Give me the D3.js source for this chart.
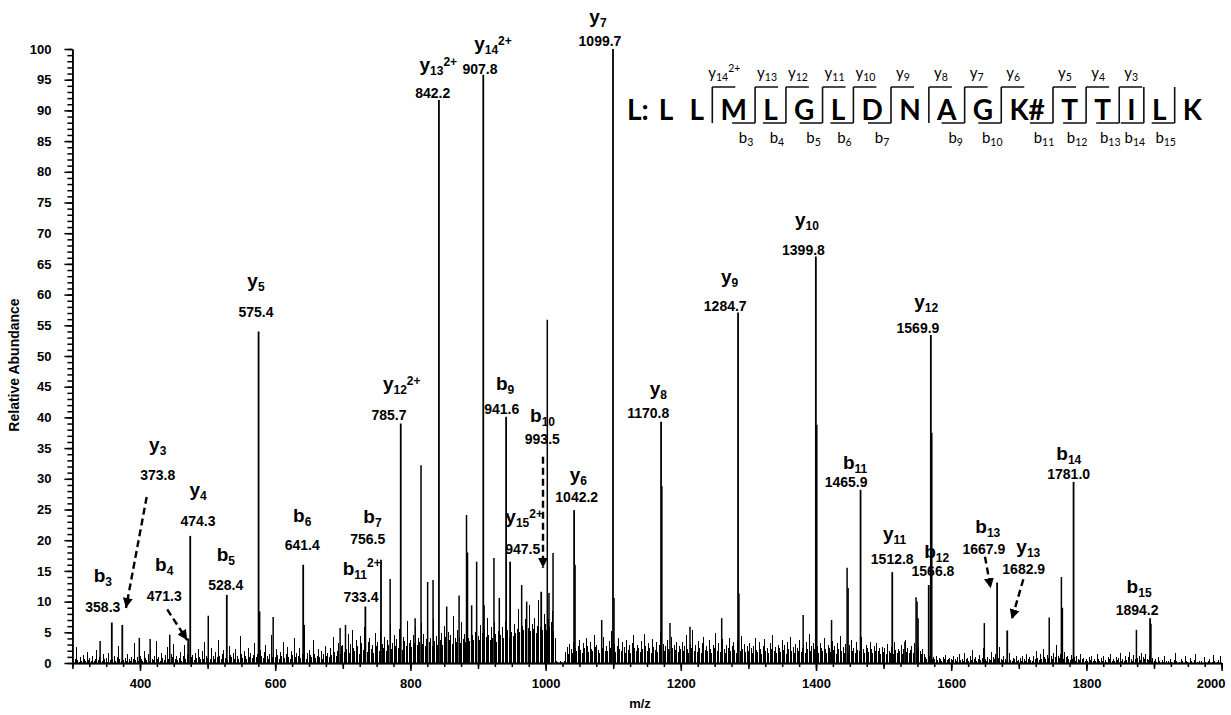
<!DOCTYPE html>
<meta charset="utf-8">
<body style="margin:0;background:#fff">
<svg></svg>
<script src="https://cdn.jsdelivr.net/npm/d3@7"></script>
<script>
// ---------- data ----------
const xDomain = [300, 2000]
const yDomain = [0, 100]
const xTickLabels = [400, 600, 800, 1000, 1200, 1400, 1600, 1800, 2000]
const yTickLabels = [0, 5, 10, 15, 20, 25, 30, 35, 40, 45, 50, 55, 60, 65, 70, 75, 80, 85, 90, 95, 100]

// assigned fragment ions: [ion, index, charge, m/z, relative abundance]
const ions = [
  ["b", "3", "", 358.3, 6.6],
  ["y", "3", "", 373.8, 6.2],
  ["b", "4", "", 471.3, 4.0],
  ["y", "4", "", 474.3, 20.7],
  ["b", "5", "", 528.4, 11.1],
  ["y", "5", "", 575.4, 54.0],
  ["b", "6", "", 641.4, 16.0],
  ["b", "11", "2+", 733.4, 9.2],
  ["b", "7", "", 756.5, 16.8],
  ["y", "12", "2+", 785.7, 39.0],
  ["y", "13", "2+", 842.2, 91.7],
  ["y", "14", "2+", 907.8, 95.8],
  ["b", "9", "", 941.6, 40.1],
  ["y", "15", "2+", 947.5, 16.5],
  ["b", "10", "", 993.5, 11.6],
  ["y", "6", "", 1042.2, 24.9],
  ["y", "7", "", 1099.7, 100],
  ["y", "8", "", 1170.8, 39.3],
  ["y", "9", "", 1284.7, 57.1],
  ["y", "10", "", 1399.8, 66.2],
  ["b", "11", "", 1465.9, 28.2],
  ["y", "11", "", 1512.8, 14.8],
  ["b", "12", "", 1566.8, 12.7],
  ["y", "12", "", 1569.9, 53.4],
  ["b", "13", "", 1667.9, 13.1],
  ["y", "13", "", 1682.9, 5.3],
  ["b", "14", "", 1781.0, 29.5],
  ["b", "15", "", 1894.2, 7.3]
]

// unlabelled peaks: [m/z, relative abundance]
const otherPeaks = [
  [341, 3.6], [399, 4.1], [415, 3.9], [444, 4.6], [501, 7.7], [577, 8.4], [597, 7.5],
  [643, 6.2], [696, 5.7], [704, 6.2], [770, 13.7], [807, 7.3], [815.7, 32.2], [825.5, 13.2],
  [833.5, 13.5], [853.7, 9.2], [872, 11], [883, 24.1], [884.5, 18], [890.6, 9.4], [898, 16.5],
  [909, 9.4], [923.6, 17.1], [931.5, 10.6], [964.6, 12.7], [972, 10], [1002.5, 55.9],
  [1005, 11.4], [1011, 17.9], [1043.6, 16], [1083, 7], [1101.2, 10.6], [1172, 28.8],
  [1184, 6.5], [1213.6, 5.9], [1260.5, 7.3], [1286, 11.3], [1381, 7.8], [1401.2, 38.8],
  [1423, 7], [1446, 15.5], [1447.5, 12.2], [1531.5, 3.5], [1548, 10.7], [1549.5, 10],
  [1551, 7.3], [1571.3, 37.5], [1649, 6.5], [1745, 7.4], [1763, 14], [1764.5, 9],
  [1874, 5.4], [1895.5, 6.4]
]

// baseline noise, one value every 2 m/z starting at 300
const noiseStart = 300, noiseStep = 2
const noise = [
  1.1,0.3,0.6,2.6,0.5,0.2,0.9,0.4,1.3,0.6, 0.3,1.8,0.5,0.8,0.4,1.2,0.3,0.7,2.1,0.5,
  0.9,0.4,0.3,1.4,0.6,0.8,0.2,1.6,0.5,0.4, 0.7,1.1,0.3,0.9,2.8,0.6,0.4,1.3,0.5,0.8,
  0.3,1.5,0.6,0.4,1,0.7,3.3,0.5,0.9,0.4,
  1.2,0.6,0.4,1.9,0.8,0.5,1.4,0.3,2.3,0.7, 0.5,1.1,3.6,0.6,0.9,0.4,1.7,0.8,0.5,1.3,
  2.6,0.7,0.4,1.5,0.9,3.1,0.6,1.2,0.5,0.8, 1.8,0.4,1.1,2.9,0.7,1.4,0.6,4.2,0.9,1.3,
  0.5,1.6,0.8,2.2,1,0.6,1.9,0.7,3.4,1.1,
  0.8,1.5,0.6,2.4,1.1,0.7,1.8,0.9,3.8,1.2, 0.6,1.4,2.1,0.8,1.6,0.5,2.7,1.3,0.9,1.7,
  0.7,2.3,1.1,0.6,4.4,1.4,0.8,1.9,1.2,0.7, 2.5,1,1.6,0.8,1.3,3.2,0.9,1.5,0.7,2.1,
  1.2,0.8,1.8,2.9,1.1,0.6,1.4,4.6,1,1.7,
  0.9,2.2,1.3,0.7,1.8,1.1,3.5,0.8,1.5,2.6, 1,0.7,1.9,1.3,4.1,0.9,1.6,1.2,2.4,0.8,
  1.4,3,1.1,0.7,1.7,2.1,1.3,0.9,3.7,1.5, 0.8,1.2,2.3,1,1.9,0.7,1.4,2.8,1.1,1.6,
  0.9,2.5,1.3,4.3,1.8,1.2,2,3.2,1.5,2.7,
  2.9,1.8,3.6,2.2,4.8,1.6,3.1,5.4,2.4,1.9, 3.8,2.7,1.5,4.4,3.2,2.1,5.9,2.6,1.8,3.5,
  4.1,2.3,3,1.7,4.9,2.8,3.4,2,5.2,3.1, 2.5,4.3,1.9,3.7,2.9,6.3,2.2,3.3,4.6,2.7,
  3.9,2.4,5.5,3,2.1,4.2,3.6,2.8,6.8,3.3,
  3.7,2.6,4.5,3.2,5.8,2.9,4,3.5,6.5,3.1, 4.7,2.8,3.9,5.3,3.4,4.1,2.7,7.2,3.6,4.4,
  3,5.6,3.8,4.9,2.9,6.1,4.2,3.3,5,3.7, 4.6,3.1,7.6,4,3.5,5.4,4.3,3.2,6.7,3.9,
  4.8,3.4,5.7,4.1,3.6,8.3,4.5,3.8,5.1,4.2,
  4.4,3.7,6.2,4.9,3.9,5.5,4.3,7.4,4.6,3.8, 5.9,4.1,6.6,4.7,3.5,5.2,8.1,4.5,5.8,4,
  6.9,4.8,5.3,4.2,7.7,5,4.4,6.3,4.9,5.6, 8.8,5.1,4.6,6,5.4,7.1,4.8,5.7,9.5,5.2,
  6.4,5.5,7.3,4.9,6.1,10.2,5.8,6.7,5.3,7.9,
  6.3,5.4,7.2,5.8,6.6,8.4,5.2,4.1,0.3,0.2, 0,0.3,0.2,0,0.4,1.8,2.6,1.5,3.1,2.2,
  1.7,3.4,2.5,1.9,2.8,3.7,2.1,1.6,3.2,2.4, 4.1,2.7,1.8,3.5,2.3,1.9,4.6,2.6,3,2.1,
  1.7,3.3,2.5,4.3,2,2.8,1.9,3.6,2.4,5.2,
  2.2,3.1,1.8,2.7,4,2.3,1.9,3.4,2.6,1.7, 3.8,2.1,2.9,1.6,3.3,4.5,2.4,2,3,2.5,
  1.8,3.6,2.2,4.8,2.7,1.9,3.2,2.4,1.7,3.9, 2.6,2.1,3.5,1.8,2.9,5.1,2.3,3.1,2,2.7,
  3.7,2.2,1.9,4.2,2.5,3,2.1,3.4,1.8,2.8,
  2.3,3.5,1.9,2.8,4.6,2.2,1.7,3.1,2.5,5.4, 2,2.9,1.8,3.6,2.4,1.6,3.2,4.3,2.1,2.7,
  1.9,3.8,2.3,1.7,2.9,2.5,4.9,2,3.3,1.8, 2.6,3.9,2.2,1.6,3,2.4,4.1,1.9,2.8,3.4,
  2.1,1.7,3.6,2.5,2,4.4,2.3,3.1,1.8,2.7,
  1.9,3.2,2.4,1.6,2.8,4,2.1,1.8,3.5,2.3, 1.5,2.7,3.9,2,2.5,1.7,3.3,2.2,4.5,1.9,
  2.6,1.6,3,2.4,1.8,3.7,2.1,2.9,1.5,3.4, 2.3,4.2,1.9,2.6,1.7,3.1,2.5,2,3.8,1.8,
  2.4,2.9,1.6,3.5,2.2,4.7,2,2.7,3.2,2.3,
  2.1,2.8,1.7,3.3,2.4,1.9,4.1,2.2,1.6,3, 2.5,1.8,3.6,2.1,2.7,1.5,3.2,2.3,4.4,1.9,
  2.6,1.7,3.1,2.2,1.8,2.9,3.8,2,2.4,1.6, 3.4,2.1,1.9,2.7,4.3,2.3,1.7,3,2.5,1.8,
  3.5,2.2,1.6,2.8,2,3.3,1.9,2.4,1.5,2.6,
  1.8,2.4,1.5,3.1,2,1.7,2.6,1.4,3.5,2.1, 1.6,2.3,1.9,2.9,1.5,2.2,3.7,1.8,2.5,1.6,
  2.1,2.8,1.7,3.3,2.4,1.9,2.6,2,1.5,2.3, 1.4,0.9,0.6,0.8,1.1,0.5,0.7,0.9,0.6,1.2,
  0.5,0.8,0.6,0.4,0.9,0.7,1.3,0.5,0.6,0.8,
  0.7,0.5,1.1,0.6,0.4,0.9,1.4,0.5,0.7,0.3, 1.6,0.6,0.8,0.4,1.2,0.5,2.1,0.7,0.9,0.4,
  0.6,1.3,0.5,0.8,2.4,0.6,0.4,1,0.7,0.5, 1.8,0.9,0.6,1.5,0.4,0.8,2.6,0.7,0.5,1.2,
  0.6,0.4,0.9,1.7,0.5,0.3,0.8,0.6,1.1,0.4,
  0.5,0.8,0.3,1.2,0.6,0.4,1.5,0.7,0.9,0.5, 0.4,1.1,0.6,1.9,0.8,0.5,1.4,0.7,2.2,0.9,
  0.6,1.3,0.8,2.5,1.1,0.7,1.6,0.9,3,1.2, 0.8,1.5,1,0.6,1.8,0.9,1.2,0.7,0.5,1.3,
  0.6,0.9,0.4,1.1,0.7,0.5,1.4,0.6,0.8,0.4,
  0.6,0.3,0.9,0.5,1.2,0.4,0.7,0.3,1.5,0.6, 0.4,0.8,0.3,1.1,0.5,0.2,0.9,0.6,1.4,0.4,
  0.7,0.3,1,0.5,0.8,1.6,0.4,0.6,0.3,1.2, 0.5,0.9,1.8,0.7,0.4,1.3,0.6,2.1,0.8,1.1,
  0.5,1.7,0.9,0.6,1.4,0.7,0.5,1.1,0.4,0.8,
  0.4,0.6,0.2,0.9,0.3,0,0.5,0.2,1.2,0.4, 0,0.3,0.7,0.2,0,0.5,1.6,0.3,0,0.2,
  0.6,0.3,0,1.1,0.4,0.2,0,0.8,0.3,0, 0.5,1.4,0.2,0,0.4,0.3,0,0.9,0.2,0,
  0.3,0.6,0,0.2,1.3,0.4,0,0.2,0.5,1.1
]

// peptide sequence and the fragments seen in the spectrum
const seqLabel = "L:"
const sequence = ["L", "L", "M", "L", "G", "L", "D", "N", "A", "G", "K#", "T", "T", "I", "L", "K"]
const seqYIons = [14, 13, 12, 11, 10, 9, 8, 7, 6, 5, 4, 3]
const seqBIons = [3, 4, 5, 6, 7, 9, 10, 11, 12, 13, 14, 15]
const seqYCharge = { 14: "2+" }

// ---------- layout (label offsets from peak top, px) ----------
// [dx ion, dy ion, dx mass, dy mass]
const labelOffsets = {
  "b3": [-9, -40.5, -9, -10.5], "y3": [35.4, -174, 35.4, -145], "b4": [-24, -67, -24, -37],
  "y4": [7.8, -40, 7.8, -10], "b5": [-1, -34, -1, -5], "y5": [-2.6, -44, -2.6, -14],
  "b6": [-1, -43, -1, -15], "b11_2+": [-3.7, -31.5, -4.4, -4.5], "b7": [-8.5, -37, -13.3, -16],
  "y12_2+": [1, -33.5, -11.7, -3.5], "y13_2+": [-0.6, -29, -6.2, -2], "y14_2+": [9.7, -25, -3.3, -1],
  "b9": [-1, -27, -4.4, -3], "y15_2+": [14, -39, 12.6, -8], "b10": [1.3, -170, 1.1, -148],
  "y6": [4.2, -29, 2.6, -8], "y7": [-15, -26, -13, -3.3], "y8": [-2.8, -27, -12.8, -3.7],
  "y9": [-8.4, -29, -12.8, -1.7], "y10": [-9, -30.5, -12.4, -1.5], "b11": [-5.5, -21, -14.5, -3],
  "y11": [2.4, -32, 0, -8], "b12": [7.9, -27, 4.2, -9], "y12": [-4.6, -27, -12.9, -2.4],
  "b13": [-9.3, -49.6, -13.3, -28.6], "y13": [21.1, -77.5, 16.5, -56.5], "b14": [-4.8, -22, -4.9, -3],
  "b15": [-11, -25, -13, -3]
}
// dashed arrows [start dx, start dy, tip dx, tip dy] relative to peak top
const arrows = {
  "y3": [24.4, -128, 3.7, -17], "b4": [-21, -29, -1, 1.6], "b10": [1.8, -135, 1.8, -24],
  "b13": [-12.1, -25.9, -6.4, 5.7], "y13": [16.1, -51.2, 4.5, -11.2]
}

const W = 1231, H = 715
const svg = d3.select("svg").attr("width", W).attr("height", H)
const arial = "'Liberation Sans', Arial, sans-serif"
const calibri = "Lato, 'Noto Sans', sans-serif"

const x = d3.scaleLinear().domain(xDomain).range([72.4, 1221.6])
const y = d3.scaleLinear().domain(yDomain).range([663, 49])

// noise sticks
svg.append("g").attr("shape-rendering", "crispEdges")
  .selectAll("line")
  .data(noise.map((v, i) => [noiseStart + i * noiseStep, v]).filter(d => d[1] > 0))
  .join("line")
  .attr("x1", d => x(d[0])).attr("x2", d => x(d[0]))
  .attr("y1", y(0)).attr("y2", d => y(d[1]))
  .attr("stroke", "#000").attr("stroke-width", 1)

// other peaks
svg.append("g")
  .selectAll("line")
  .data(otherPeaks)
  .join("line")
  .attr("x1", d => x(d[0])).attr("x2", d => x(d[0]))
  .attr("y1", y(0)).attr("y2", d => y(d[1]))
  .attr("stroke", "#000").attr("stroke-width", 1.5)

// assigned peaks
svg.append("g")
  .selectAll("line")
  .data(ions)
  .join("line")
  .attr("x1", d => x(d[3])).attr("x2", d => x(d[3]))
  .attr("y1", y(0)).attr("y2", d => y(d[4]))
  .attr("stroke", "#000").attr("stroke-width", 1.8)

// ion + mass labels
function ionText(t, name, sub, sup, big, small, subDy, supDy) {
  t.append("tspan").attr("font-size", big).text(name)
  t.append("tspan").attr("font-size", small).attr("dy", subDy).text(sub)
  if (sup) t.append("tspan").attr("font-size", small).attr("dy", supDy - subDy).text(sup)
}

const lab = svg.append("g").attr("font-family", arial).attr("font-weight", "bold").attr("fill", "#000")
ions.forEach(d => {
  const key = d[0] + d[1] + (d[2] ? "_" + d[2] : "")
  const o = labelOffsets[key]
  const px = x(d[3]), py = y(d[4])
  const t = lab.append("text").attr("x", px + o[0]).attr("y", py + o[1]).attr("text-anchor", "middle")
  ionText(t, d[0], d[1], d[2], 19, 12, 4, d[0] === "y" ? -5 : -8.5)
  lab.append("text").attr("x", px + o[2]).attr("y", py + o[3])
    .attr("text-anchor", "middle").attr("font-size", 14).text(d[3].toFixed(1))
})

// dashed arrows
svg.append("defs").append("marker")
  .attr("id", "head").attr("markerUnits", "userSpaceOnUse")
  .attr("markerWidth", 11).attr("markerHeight", 10).attr("refX", 10).attr("refY", 5)
  .attr("orient", "auto")
  .append("path").attr("d", "M0,0L10,5L0,10Z").attr("fill", "#000")

ions.forEach(d => {
  const a = arrows[d[0] + d[1]]
  if (!a || d[2]) return
  const px = x(d[3]), py = y(d[4])
  svg.append("line")
    .attr("x1", px + a[0]).attr("y1", py + a[1])
    .attr("x2", px + a[2]).attr("y2", py + a[3])
    .attr("stroke", "#000").attr("stroke-width", 2.4).attr("stroke-dasharray", "7,4")
    .attr("marker-end", "url(#head)")
})

// axes
function styleAxis(g) {
  g.selectAll("path,line").attr("stroke", "#000").attr("stroke-width", 1.5)
  g.selectAll("text").attr("font-family", arial).attr("font-weight", "bold").attr("font-size", 13).attr("fill", "#000")
}
svg.append("g").attr("transform", `translate(${x.range()[0]},0)`)
  .call(d3.axisLeft(y).tickValues(d3.range(0, 101, 1)).tickSize(5).tickSizeOuter(0).tickFormat(""))
  .call(styleAxis)
svg.append("g").attr("transform", `translate(${x.range()[0]},0)`)
  .call(d3.axisLeft(y).tickValues(yTickLabels).tickSize(8).tickSizeOuter(0).tickPadding(13).tickFormat(d3.format("d")))
  .call(styleAxis)

svg.append("g").attr("transform", `translate(0,${y(0)})`)
  .call(d3.axisBottom(x).tickValues(d3.range(300, 2001, 25)).tickSize(4).tickSizeOuter(0).tickFormat(""))
  .call(styleAxis)
svg.append("g").attr("transform", `translate(0,${y(0)})`)
  .call(d3.axisBottom(x).tickValues(d3.range(300, 2001, 100)).tickSize(6).tickSizeOuter(0).tickFormat(""))
  .call(styleAxis)
const xAx = svg.append("g").attr("transform", `translate(0,${y(0)})`)
  .call(d3.axisBottom(x).tickValues(xTickLabels).tickSize(8).tickSizeOuter(0).tickPadding(8).tickFormat(d3.format("d")))
  .call(styleAxis)
xAx.selectAll(".tick").filter(d => d === 2000).select("text").attr("x", -11)

svg.append("text")
  .attr("transform", `translate(19,365) rotate(-90)`)
  .attr("text-anchor", "middle").attr("font-family", arial).attr("font-weight", "bold")
  .attr("font-size", 14).text("Relative Abundance")
svg.append("text")
  .attr("x", 640).attr("y", 708)
  .attr("text-anchor", "middle").attr("font-family", arial).attr("font-weight", "bold")
  .attr("font-size", 13).text("m/z")

// sequence with fragment brackets
const seq = svg.append("g").attr("font-family", calibri).attr("fill", "#000")
const baseY = 120, topY = 87, botY = 123, tick = 23
const lbl = seq.append("text").attr("x", 627).attr("y", baseY)
  .attr("font-weight", "bold").attr("font-size", 28).text(seqLabel)
let cursor = 627 + lbl.node().getComputedTextLength() + 10
const resBox = sequence.map((r, i) => {
  const t = seq.append("text").attr("x", cursor).attr("y", baseY)
    .attr("font-weight", "bold").attr("font-size", 28).text(r)
  const w = t.node().getComputedTextLength()
  const box = [cursor, cursor + w]
  cursor += w + 16.3
  return box
})
const n = sequence.length
for (let i = 1; i < n; i++) {
  const yIon = n - i, bIon = i
  const hasY = seqYIons.includes(yIon), hasB = seqBIons.includes(bIon)
  if (!hasY && !hasB) continue
  const sx = (resBox[i - 1][1] + resBox[i][0]) / 2
  const path = d3.path()
  path.moveTo(sx, topY); path.lineTo(sx, botY)
  if (hasY) { path.moveTo(sx, topY); path.lineTo(sx + tick, topY) }
  if (hasB) { path.moveTo(sx, botY); path.lineTo(sx - tick, botY) }
  seq.append("path").attr("d", path.toString()).attr("fill", "none")
    .attr("stroke", "#111").attr("stroke-width", 1.6)
  if (hasY) {
    const t = seq.append("text").attr("x", sx + 12).attr("y", 78).attr("text-anchor", "middle")
    ionText(t, "y", String(yIon), seqYCharge[yIon], 15, 10.5, 3, -6)
  }
  if (hasB) {
    const t = seq.append("text").attr("x", sx - 9).attr("y", 143).attr("text-anchor", "middle")
    ionText(t, "b", String(bIon), "", 15, 10.5, 3, 0)
  }
}
</script>
</body>
